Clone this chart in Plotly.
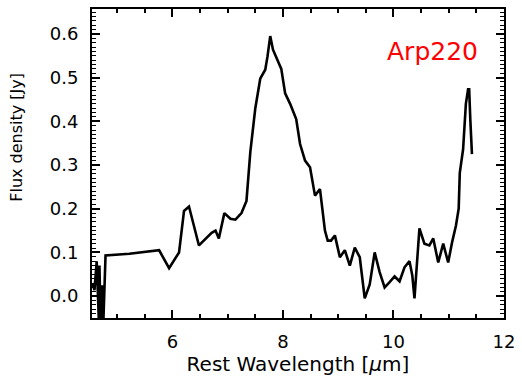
import plotly.graph_objects as go

wavelength = [4.55, 4.59, 4.63, 4.65, 4.67, 4.68, 4.70, 4.73, 4.75, 4.79,
              5.22, 5.76, 5.94, 6.12, 6.21, 6.30, 6.48, 6.71, 6.78, 6.84,
              6.94, 7.05, 7.14, 7.25, 7.34, 7.41, 7.50, 7.59, 7.68, 7.72,
              7.77, 7.82, 7.91, 7.97, 8.04, 8.13, 8.24, 8.31, 8.40, 8.49,
              8.58, 8.67, 8.76, 8.81, 8.87, 8.94, 9.03, 9.12, 9.21, 9.30,
              9.39, 9.48, 9.57, 9.66, 9.75, 9.84, 9.93, 10.02, 10.11, 10.20,
              10.29, 10.34, 10.38, 10.43, 10.47, 10.56, 10.65, 10.72, 10.81, 10.90,
              10.99, 11.06, 11.13, 11.18, 11.20, 11.26, 11.31, 11.35, 11.37, 11.39,
              11.42]
flux = [0.030, 0.014, 0.080, -0.010, -0.060, 0.070, -0.060, 0.025, -0.060, 0.093,
        0.097, 0.105, 0.064, 0.100, 0.195, 0.205, 0.116, 0.145, 0.150, 0.132,
        0.190, 0.177, 0.175, 0.190, 0.218, 0.330, 0.430, 0.498, 0.518, 0.548,
        0.595, 0.564, 0.536, 0.520, 0.464, 0.440, 0.405, 0.348, 0.310, 0.295,
        0.230, 0.245, 0.150, 0.127, 0.127, 0.139, 0.089, 0.105, 0.070, 0.111,
        0.089, -0.005, 0.027, 0.100, 0.055, 0.020, 0.032, 0.045, 0.034, 0.066,
        0.080, 0.048, -0.005, 0.077, 0.155, 0.120, 0.116, 0.132, 0.077, 0.120,
        0.077, 0.123, 0.161, 0.200, 0.282, 0.336, 0.440, 0.473, 0.473, 0.405,
        0.325]

x_ticks = [6, 8, 10, 12]
y_ticks = [0.0, 0.1, 0.2, 0.3, 0.4, 0.5, 0.6]
label = "Arp220"

FONT = "DejaVu Sans"

fig = go.Figure()
fig.add_trace(go.Scatter(x=wavelength, y=flux, mode="lines",
                         line=dict(color="black", width=2.6),
                         showlegend=False))

fig.update_layout(
    width=522, height=388,
    margin=dict(l=92, r=15, t=7, b=70),
    paper_bgcolor="white", plot_bgcolor="white",
    font=dict(family=FONT, color="black", size=18),
    xaxis=dict(range=[4.545, 12.0], tickvals=x_ticks, ticks="inside",
               ticklen=8, tickwidth=1.6, tickcolor="black",
               showline=True, linecolor="black", linewidth=2, mirror="ticks",
               showgrid=False, zeroline=False,
               minor=dict(dtick=0.5, tick0=0, ticks="inside", ticklen=4,
                          tickwidth=1.6, tickcolor="black", showgrid=False),
               tickfont=dict(size=18), ticklabelstandoff=6,
               title=dict(text="Rest Wavelength [<i>μ</i>m]",
                          font=dict(size=20), standoff=5)),
    yaxis=dict(range=[-0.05, 0.657], tickvals=y_ticks, tickformat=".1f",
               ticks="inside", ticklen=8, tickwidth=1.6, tickcolor="black",
               showline=True, linecolor="black", linewidth=2, mirror="ticks",
               showgrid=False, zeroline=False,
               minor=dict(dtick=0.01, tick0=0, ticks="inside", ticklen=4,
                          tickwidth=1.4, tickcolor="black", showgrid=False),
               tickfont=dict(size=18), ticklabelstandoff=8),
)

fig.add_annotation(text="Flux density [Jy]", textangle=-90,
                   xref="paper", yref="paper", x=(16 - 92) / 415, y=(318 - 136) / 311,
                   xanchor="center", yanchor="middle", showarrow=False,
                   font=dict(size=16, family=FONT, color="black"))
fig.add_annotation(text=label, xref="paper", yref="paper",
                   x=(435 - 92) / 415, y=(318 - 50) / 311,
                   xanchor="center", yanchor="middle", showarrow=False,
                   font=dict(size=25, family=FONT, color="red"))

fig.write_html("out.html")
